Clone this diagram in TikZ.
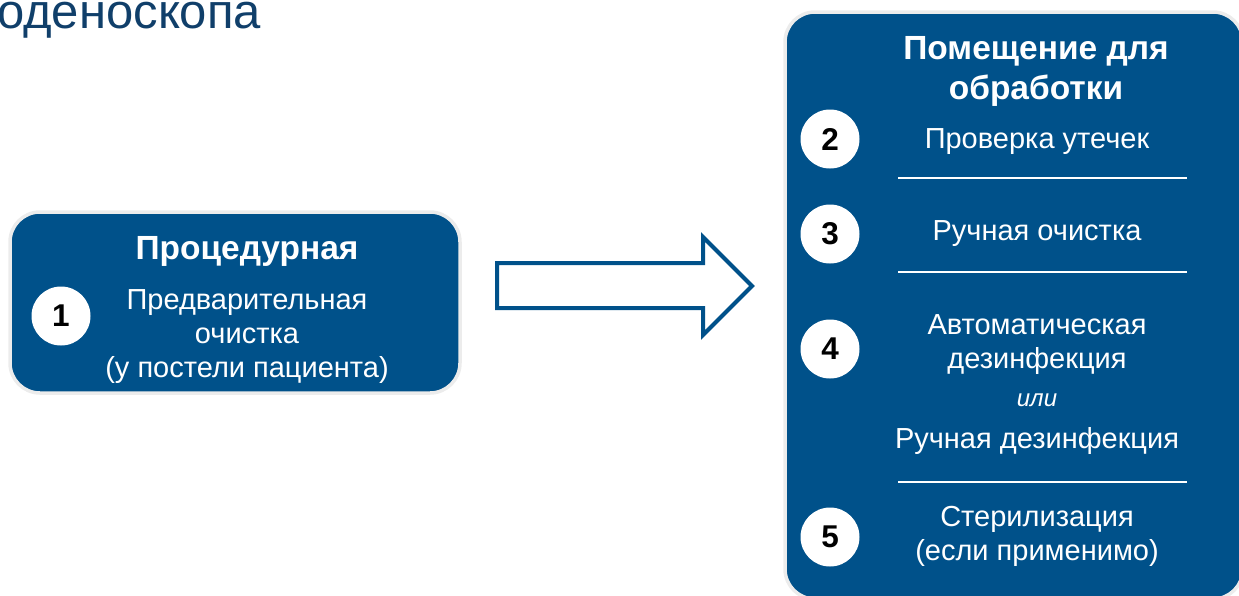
\documentclass[tikz,border=0pt]{standalone}
\usepackage{fontspec}
\setmainfont{Liberation Sans}
\definecolor{boxblue}{RGB}{0,81,138}
\definecolor{headblue}{RGB}{16,63,106}
\definecolor{rim}{RGB}{236,236,236}
\begin{document}
\begin{tikzpicture}[x=1pt,y=-1pt,
  panel/.style={fill=boxblue,draw=rim,line width=3.5pt,rounded corners=30pt},
  numdot/.style={circle,fill=white,draw=none,minimum size=59pt,inner sep=0pt,
    font=\fontsize{31.5}{31.5}\selectfont\bfseries,text=black},
  head/.style={text=white,align=center,font=\fontsize{33.5}{40}\selectfont\bfseries},
  body/.style={text=white,align=center,font=\fontsize{29}{34}\selectfont},
  rule/.style={white,line width=2pt},
  bigarrow/.style={draw=boxblue,line width=4pt,fill=white,line join=miter}]
\useasboundingbox (0,0) rectangle (1239,595);

% page heading, running off the left edge
\node[anchor=base west,inner sep=0pt,text=headblue,font=\fontsize{49}{49}\selectfont] (heading) at (-3,28) {оденоскопа};

% procedure room panel
\path[panel] (10,212) rectangle (460,393);
\node[head] (proctitle) at (247,251.5) {Процедурная};
\node[body] (procstep) at (247,337) {Предварительная\\очистка\\(у постели пациента)};
\node[numdot] (n1) at (61,316) {1};

% processing room panel
\path[panel] (785,12) rectangle (1243,599);
\node[head] (roomtitle) at (1036,71.5) {Помещение для\\обработки};

\node[numdot] (n2) at (830,139) {2};
\node[body] (s2) at (1037,141.5) {Проверка утечек};
\draw[rule] (898,178) -- (1187,178);

\node[numdot] (n3) at (830,234) {3};
\node[body] (s3) at (1037,233.5) {Ручная очистка};
\draw[rule] (898,272) -- (1187,272);

\node[numdot] (n4) at (830,349) {4};
\node[body] (s4a) at (1037,344.5) {Автоматическая\\дезинфекция};
\node[text=white,font=\fontsize{24}{24}\selectfont\itshape] (s4or) at (1037,400.5) {или};
\node[body] (s4b) at (1037,440.5) {Ручная дезинфекция};
\draw[rule] (898,482) -- (1187,482);

\node[numdot] (n5) at (830,537) {5};
\node[body] (s5) at (1037,536.5) {Стерилизация\\(если применимо)};

% block arrow between the rooms
\draw[bigarrow] (497,263) -- (703,263) -- (703,237) -- (752,286) -- (703,335) -- (703,308) -- (497,308) -- cycle;
\end{tikzpicture}
\end{document}
